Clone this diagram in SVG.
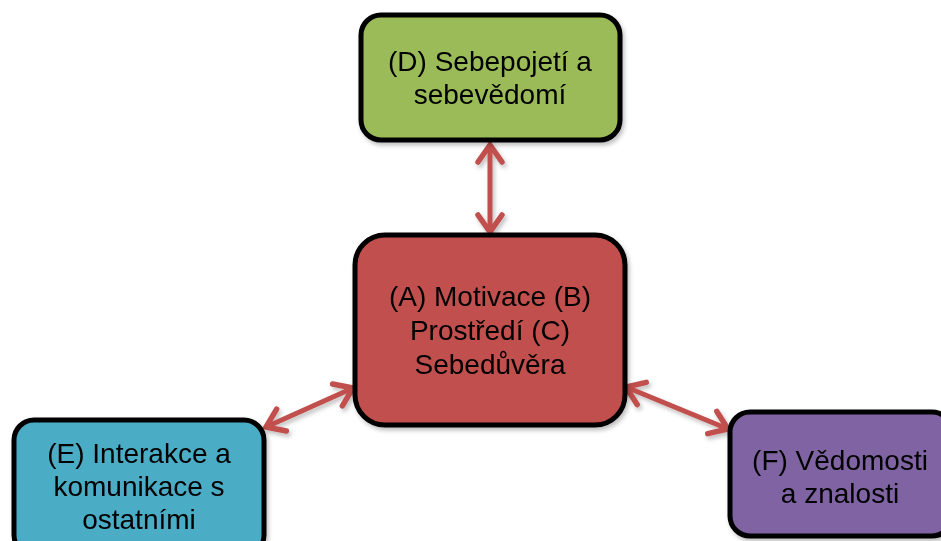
<svg xmlns="http://www.w3.org/2000/svg" width="941" height="541" viewBox="0 0 941 541">
<style>
.box{stroke:#000;stroke-width:5}
.t{font-family:"Liberation Sans",Arial,sans-serif;font-size:28px;fill:#000;text-anchor:middle}
.c{stroke:#C0504D;stroke-width:5;fill:none}
</style>
<defs>
<filter id="sh" x="-20%" y="-20%" width="140%" height="140%">
<feDropShadow dx="2" dy="3" stdDeviation="2" flood-color="#000" flood-opacity="0.25"/>
</filter>
<marker id="ah" markerUnits="userSpaceOnUse" markerWidth="40" markerHeight="40" refX="20" refY="20" orient="auto-start-reverse" viewBox="0 0 40 40">
<path d="M3,8 L20,20 L3,32" fill="none" stroke="#C0504D" stroke-width="5.5" stroke-linecap="round" stroke-linejoin="miter"/>
</marker>
</defs>
<g id="connectors" filter="url(#sh)">
<line class="c" x1="490" y1="145" x2="490" y2="232" marker-start="url(#ah)" marker-end="url(#ah)"/>
<line class="c" x1="266" y1="427" x2="353" y2="388" marker-start="url(#ah)" marker-end="url(#ah)"/>
<line class="c" x1="626" y1="387" x2="728" y2="429" marker-start="url(#ah)" marker-end="url(#ah)"/>
</g>
<g id="nodeD" filter="url(#sh)">
<rect class="box" x="361" y="15" width="259" height="125" rx="20" fill="#9BBB59"/>
<text class="t" x="490" y="71">(D) Sebepojetí a</text>
<text class="t" x="490" y="104">sebevědomí</text>
</g>
<g id="nodeA" filter="url(#sh)">
<rect class="box" x="355" y="235" width="270" height="190" rx="30" fill="#C0504D"/>
<text class="t" x="490" y="306">(A) Motivace (B)</text>
<text class="t" x="490" y="340">Prostředí (C)</text>
<text class="t" x="490" y="374">Sebedůvěra</text>
</g>
<g id="nodeE" filter="url(#sh)">
<rect class="box" x="14" y="420" width="250" height="135" rx="20" fill="#4BACC6"/>
<text class="t" x="139" y="463">(E) Interakce a</text>
<text class="t" x="139" y="496">komunikace s</text>
<text class="t" x="139" y="529">ostatními</text>
</g>
<g id="nodeF" filter="url(#sh)">
<rect class="box" x="730" y="412" width="222" height="124" rx="20" fill="#8064A2"/>
<text class="t" x="840" y="470">(F) Vědomosti</text>
<text class="t" x="840" y="503">a znalosti</text>
</g>
</svg>
